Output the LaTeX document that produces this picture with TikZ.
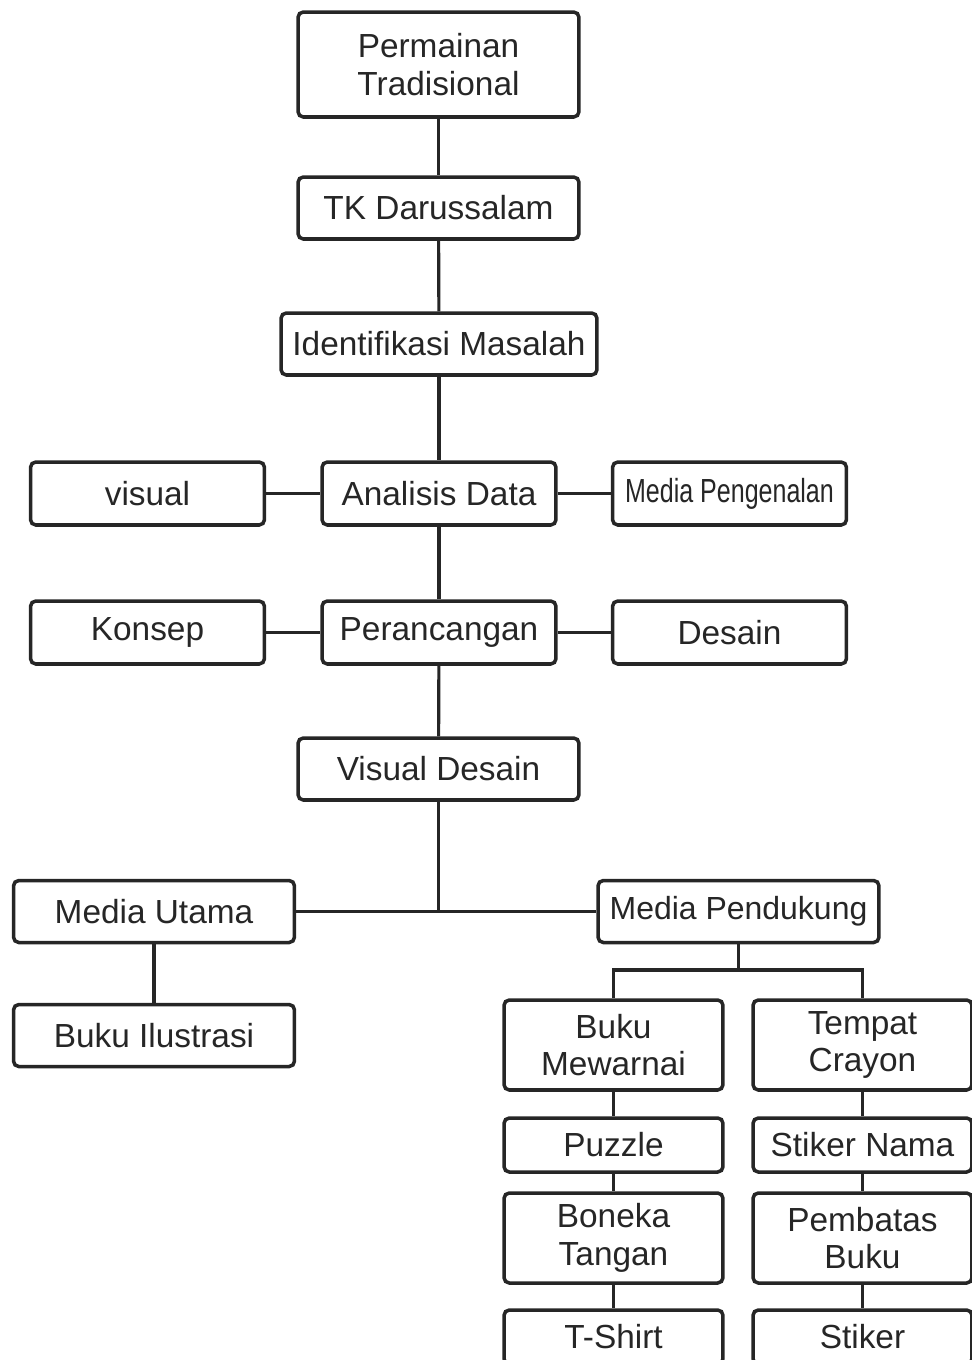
\documentclass[tikz,border=0pt]{standalone}
\usepackage{fontspec}
\setmainfont{Liberation Sans}
\newfontfamily\narrowfont[FakeStretch=0.75]{Liberation Sans}
\usepackage{tikz}
\usetikzlibrary{calc,positioning}
\tikzset{
  stage/.style={
    rectangle,
    rounded corners=3pt,
    draw=black!85,
    line width=2pt,
    fill=white,
    text=black!85,
    align=center,
    inner sep=2pt,
    minimum width=5.62cm,
    minimum height=1.24cm,
    font=\fontsize{19}{21.5}\selectfont
  },
  sidebox/.style={
    stage,
    minimum width=4.68cm,
    minimum height=1.26cm
  },
  leaf/.style={
    stage,
    minimum width=4.38cm,
    minimum height=1.08cm
  },
  leaftall/.style={
    leaf,
    minimum height=1.8cm
  },
  link/.style={
    line width=1.8pt,
    draw=black!85
  }
}

\begin{document}
\begin{tikzpicture}[x=0.02cm, y=-0.02cm]
  \useasboundingbox (0,0) rectangle (971,1360);

  % ------------------------------------------------------------------
  % main column
  % ------------------------------------------------------------------
  \node[stage, minimum height=2.1cm] (perm) at (438.5,64.5) {Permainan\\Tradisional};
  \node[stage] (tk) at (438.5,208) {TK Darussalam};
  \node[stage, minimum width=6.32cm] (ident) at (439,344) {Identifikasi Masalah};
  \node[sidebox] (anal) at (439,493.5) {Analisis Data};
  \node[sidebox] (peran) at (439,632.5) {Perancangan};
  \node[stage] (visdes) at (438.5,769) {Visual Desain};

  % side boxes
  \node[sidebox] (visual) at (147.5,493.5) {visual};
  \node[sidebox] (mpeng) at (729.5,493.5) {\narrowfont Media Pengenalan};
  \node[sidebox] (konsep) at (147.5,632.5) {Konsep};
  \node[sidebox] (desain) at (729.5,632.5) {Desain};

  \draw[link] (perm) -- (tk);
  \draw[link] (tk) -- (ident);
  \draw[link] (ident) -- (anal);
  \draw[link] (anal) -- (peran);
  \draw[link] (peran) -- (visdes);
  \draw[link] (visual) -- (anal);
  \draw[link] (anal) -- (mpeng);
  \draw[link] (konsep) -- (peran);
  \draw[link] (peran) -- (desain);

  % ------------------------------------------------------------------
  % media
  % ------------------------------------------------------------------
  \node[stage] (mutama) at (154,911.5) {Media Utama};
  \node[stage] (mpend) at (738.5,911.5) {\fontsize{18.2}{21}\selectfont Media Pendukung};
  \node[stage] (bukuil) at (154,1035.5) {Buku Ilustrasi};

  \draw[link] (mutama) -- (mpend);
  \draw[link] (visdes) -- (visdes |- mutama);
  \draw[link] (mutama) -- (bukuil);

  % ------------------------------------------------------------------
  % supporting media
  % ------------------------------------------------------------------
  \node[leaftall] (mewarnai) at (613.5,1045) {Buku\\Mewarnai};
  \node[leaf] (puzzle) at (613.5,1145) {Puzzle};
  \node[leaftall] (boneka) at (613.5,1238) {Boneka\\Tangan};
  \node[leaf] (tshirt) at (613.5,1337) {T-Shirt};

  \node[leaftall] (crayon) at (862.5,1045) {Tempat\\Crayon};
  \node[leaf] (snama) at (862.5,1145) {Stiker Nama};
  \node[leaftall] (pembatas) at (862.5,1238) {Pembatas\\Buku};
  \node[leaf] (stiker) at (862.5,1337) {Stiker};

  \coordinate (split) at (738.5,970);
  \draw[link] (mpend) -- (split);
  \draw[link] (mewarnai.north) |- (split) -| (crayon.north);

  \draw[link] (mewarnai) -- (puzzle);
  \draw[link] (puzzle) -- (boneka);
  \draw[link] (boneka) -- (tshirt);
  \draw[link] (crayon) -- (snama);
  \draw[link] (snama) -- (pembatas);
  \draw[link] (pembatas) -- (stiker);
\end{tikzpicture}
\end{document}
